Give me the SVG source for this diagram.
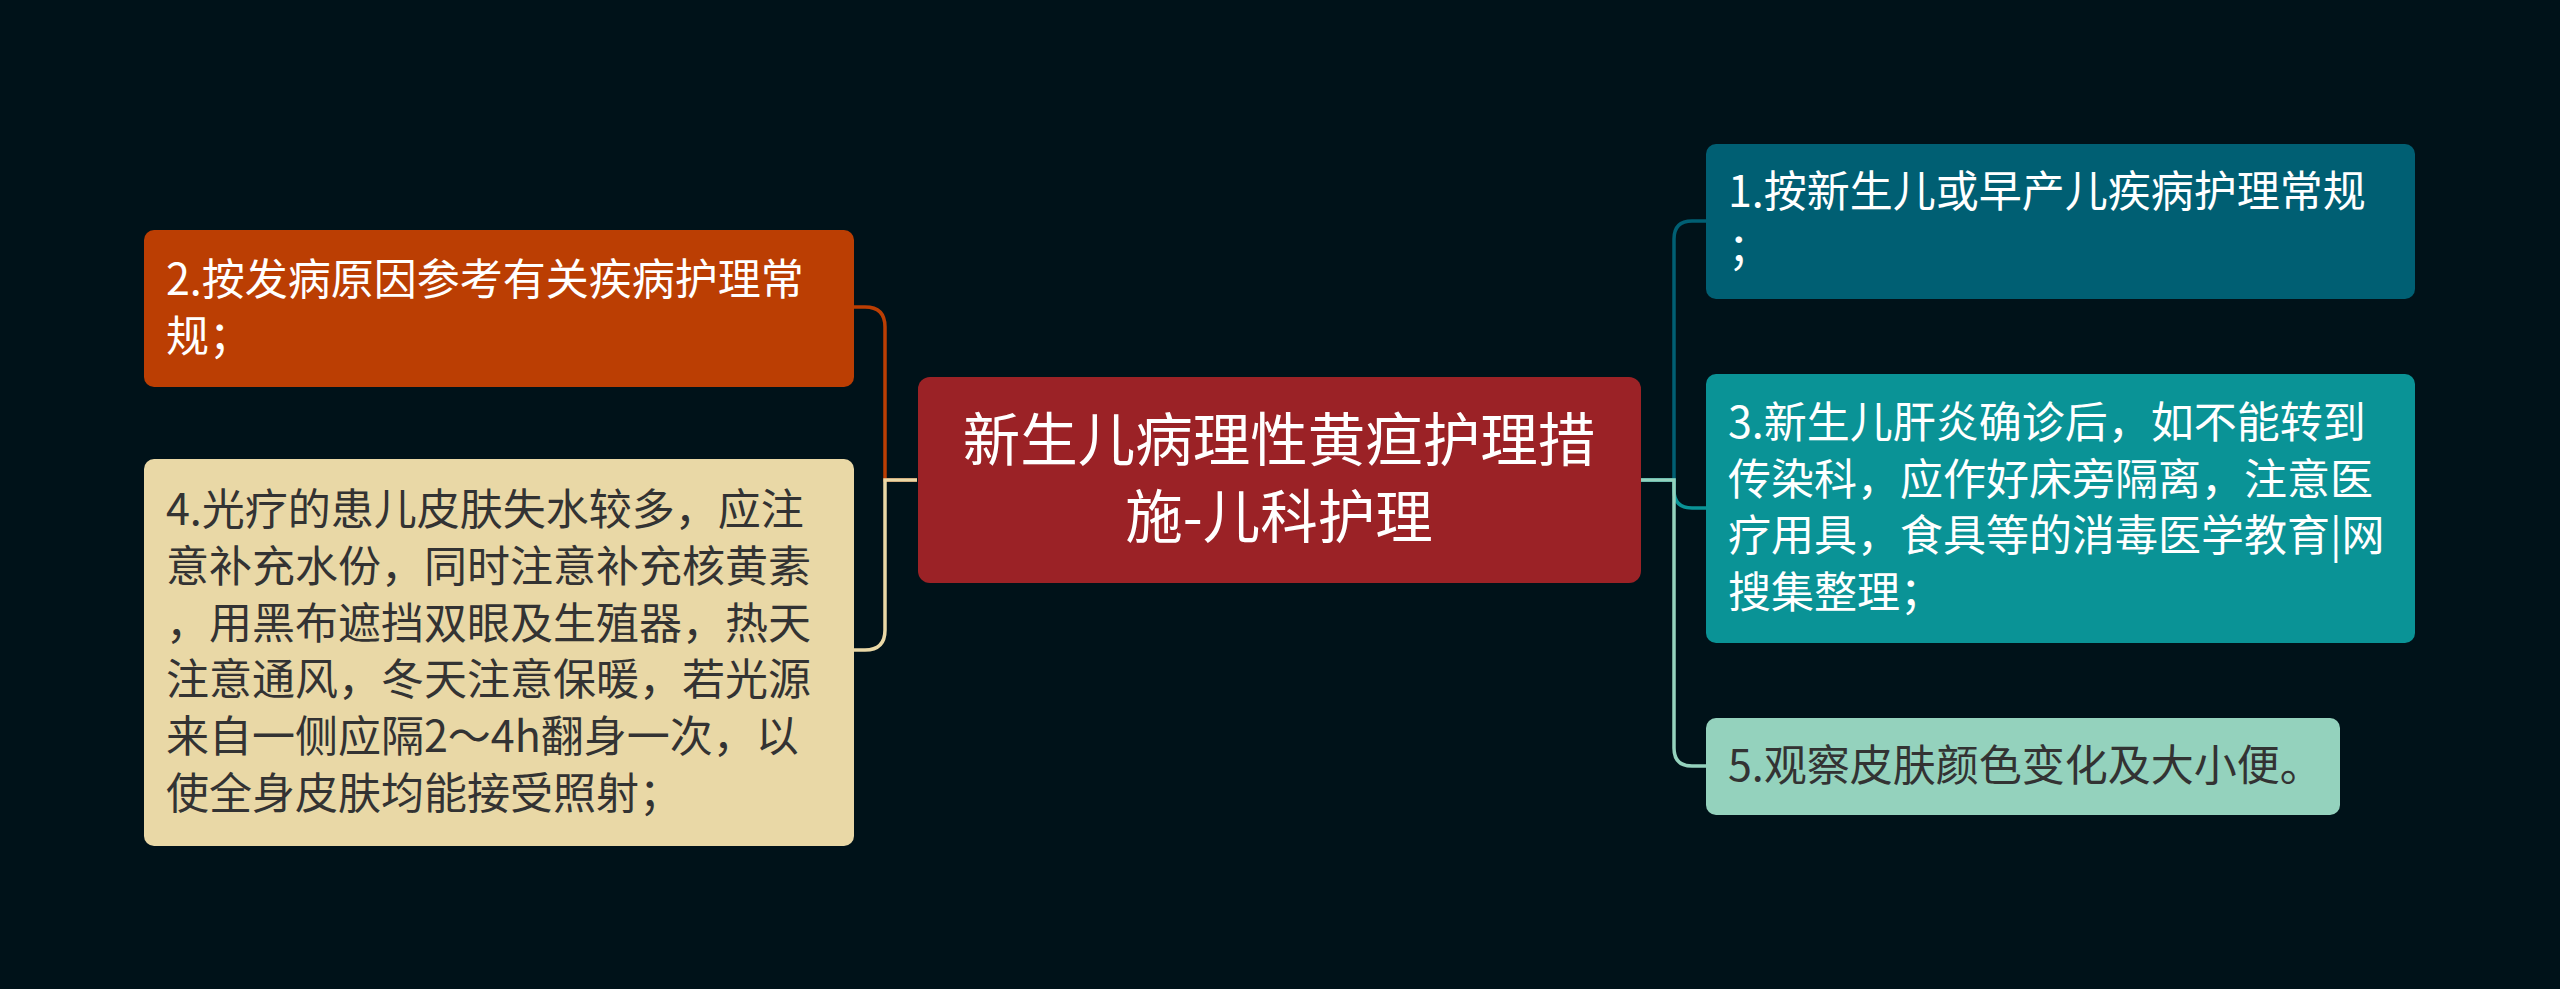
<svg xmlns="http://www.w3.org/2000/svg" width="2560" height="989" viewBox="0 0 2560 989">
<style>
.t{font-family:"Noto Sans CJK SC","Noto Sans",sans-serif;font-size:43px}
.w{fill:#ffffff}
.d{fill:#333333}
.c{font-family:"Noto Sans CJK SC","Noto Sans",sans-serif;font-size:57.5px;fill:#ffffff;text-anchor:middle}
.l{fill:none;stroke-width:3.5}
</style>
<rect width="2560" height="989" fill="#001219"/>
<g id="connectors">
<path class="l" stroke="#bb3e03" d="M917 480 H885 V327 Q885 307 865 307 H854"/>
<path class="l" stroke="#e9d8a6" d="M917 480 H885 V630 Q885 650 865 650 H854"/>
<path class="l" stroke="#005f73" d="M1641 480 H1674 V239 Q1674 221 1692 221 H1706"/>
<path class="l" stroke="#0a9396" d="M1641 480 H1674 V490 Q1674 508 1692 508 H1706"/>
<path class="l" stroke="#94d2bd" d="M1641 480 H1674 V748 Q1674 766 1692 766 H1706"/>
</g>
<g id="center">
<rect x="918" y="377" width="723" height="206" rx="12" fill="#9b2226"/>
<text class="c" x="1279" y="461">新生儿病理性黄疸护理措</text>
<text class="c" x="1279" y="538">施-儿科护理</text>
</g>
<g id="node2">
<rect x="144" y="230" width="710" height="157" rx="10" fill="#bb3e03"/>
<text class="t w" x="166" y="295">2.按发病原因参考有关疾病护理常</text>
<text class="t w" x="166" y="352">规；</text>
</g>
<g id="node4">
<rect x="144" y="459" width="710" height="387" rx="10" fill="#e9d8a6"/>
<text class="t d" x="166" y="525">4.光疗的患儿皮肤失水较多，应注</text>
<text class="t d" x="166" y="582">意补充水份，同时注意补充核黄素</text>
<text class="t d" x="166" y="639">，用黑布遮挡双眼及生殖器，热天</text>
<text class="t d" x="166" y="695">注意通风，冬天注意保暖，若光源</text>
<text class="t d" x="166" y="752">来自一侧应隔2～4h翻身一次，以</text>
<text class="t d" x="166" y="809">使全身皮肤均能接受照射；</text>
</g>
<g id="node1">
<rect x="1706" y="144" width="709" height="155" rx="10" fill="#005f73"/>
<text class="t w" x="1728" y="207">1.按新生儿或早产儿疾病护理常规</text>
<text class="t w" x="1728" y="264">；</text>
</g>
<g id="node3">
<rect x="1706" y="374" width="709" height="269" rx="10" fill="#0a9396"/>
<text class="t w" x="1728" y="438">3.新生儿肝炎确诊后，如不能转到</text>
<text class="t w" x="1728" y="495">传染科，应作好床旁隔离，注意医</text>
<text class="t w" x="1728" y="551">疗用具，食具等的消毒医学教育|网</text>
<text class="t w" x="1728" y="608">搜集整理；</text>
</g>
<g id="node5">
<rect x="1706" y="718" width="634" height="97" rx="10" fill="#94d2bd"/>
<text class="t d" x="1728" y="781">5.观察皮肤颜色变化及大小便。</text>
</g>
</svg>
